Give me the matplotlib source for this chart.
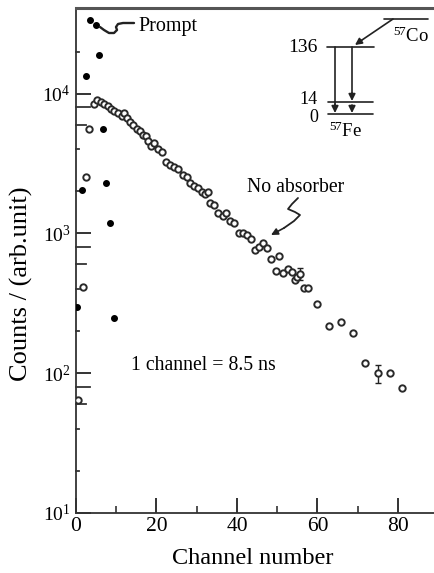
import matplotlib

matplotlib.use("Agg")
import matplotlib.pyplot as plt
from matplotlib.lines import Line2D
from matplotlib.ticker import FixedLocator, NullFormatter, LogFormatterSciNotation

plt.rcParams["font.family"] = ["Liberation Serif", "DejaVu Serif"]
plt.rcParams["mathtext.fontset"] = "custom"
plt.rcParams["mathtext.rm"] = "Liberation Serif"
plt.rcParams["mathtext.it"] = "Liberation Serif:italic"

# prompt (filled dots)
prompt_ch = [0.3, 1.5, 2.5, 3.5, 5.0, 5.7, 6.7, 7.5, 8.5, 9.5]
prompt_counts = [296, 2060, 13400, 33800, 31100, 19000, 5600, 2280, 1180, 247]

# no absorber (open circles)
open_ch = [0.5, 1.7, 2.5, 3.2, 4.5, 5.2, 6.2, 7.0, 8.0, 8.7, 9.4, 10.4, 11.4, 11.9,
           12.7, 13.4, 14.2, 15.2, 15.9, 16.7, 17.4, 17.9, 18.6, 19.4, 20.4, 21.4,
           22.4, 23.4, 24.4, 25.3, 26.6, 27.6, 28.3, 29.3, 30.3, 31.3, 32.0, 32.8,
           33.3, 34.3, 35.3, 36.5, 37.3, 38.3, 39.3, 40.5, 41.5, 42.5, 43.5, 44.5,
           45.5, 46.5, 47.5, 48.5, 49.7, 50.4, 51.4, 52.7, 53.7, 54.4, 54.9, 55.7,
           56.7, 57.6, 59.9, 62.9, 65.8, 68.8, 71.8, 75.0, 78.0, 81.0]
open_counts = [64, 411, 2550, 5620, 8480, 9060, 8770, 8480, 8210, 7810, 7560, 7320,
               6970, 7320, 6740, 6310, 6010, 5620, 5440, 5090, 5010, 4620, 4250, 4400,
               4050, 3850, 3220, 3110, 3010, 2870, 2600, 2550, 2310, 2200, 2100, 1990,
               1930, 1990, 1640, 1610, 1390, 1340, 1410, 1220, 1180, 1000, 1000, 968,
               906, 756, 794, 848, 781, 652, 535, 685, 518, 553, 527, 462, 485, 510,
               405, 405, 311, 217, 231, 193, 118, 100, 100, 79]

err_ch = [55.7, 75.0]
err_counts = [510, 100]
err_low = [45, 15]
err_high = [52, 14]

W, H = 435, 573
fig = plt.figure(figsize=(W / 100, H / 100), dpi=100)
ax = fig.add_axes([76 / W, 1 - 513 / H, 1 - 76 / W, (513 - 8) / H])

INK = "#222222"

ax.errorbar(err_ch, err_counts, yerr=[err_low, err_high], fmt="none", ecolor=INK,
            elinewidth=1.0, capsize=2.0, capthick=1.0, zorder=2)
ax.plot(open_ch, open_counts, "o", ms=4.6, mfc="white", mec="#2a2a2a", mew=1.4, zorder=3)
ax.plot(prompt_ch, prompt_counts, "o", ms=4.0, color="black", zorder=3)

ax.set_yscale("log")
ax.set_xlim(0, 89.2)
ax.set_ylim(10, 41000)

ax.spines["right"].set_visible(False)
for s in ["left", "bottom"]:
    ax.spines[s].set_color("#333333")
    ax.spines[s].set_linewidth(1.3)
ax.spines["top"].set_color("#555555")
ax.spines["top"].set_linewidth(2.2)

ax.set_xticks([0, 20, 40, 60, 80])
ax.set_xticks([10, 30, 50, 70], minor=True)
ax.yaxis.set_major_locator(FixedLocator([10, 100, 1000, 10000]))
ax.yaxis.set_major_formatter(LogFormatterSciNotation())
ax.yaxis.set_minor_locator(FixedLocator([]))
ax.yaxis.set_minor_formatter(NullFormatter())
ax.tick_params(which="major", direction="in", length=11, width=1.4, color="#333333",
               labelsize=15.5, top=False, right=False)
ax.tick_params(which="minor", direction="in", length=5, width=1.2, color="#333333",
               top=False, right=False)
ax.tick_params(axis="y", which="major", labelsize=14, pad=4)
ax.tick_params(axis="x", which="major", pad=3)

# y minor ticks: 6 and 8 longer, 2 and 4 short
ytr = ax.get_yaxis_transform()
minor_len = {2: 3, 4: 3, 6: 10, 8: 14}
for dec in [10, 100, 1000, 10000]:
    for m, L in minor_len.items():
        v = m * dec
        if v < 41000:
            ax.plot([0, L / (W - 76)], [v, v], color="#333333", lw=1.3,
                    transform=ytr, clip_on=False, zorder=1)

fig.text(253 / W, 1 - 559 / H, "Channel number", ha="center", va="center", fontsize=17.5)
fig.text(21 / W, 1 - 284 / H, "Counts / (arb.unit)", ha="center", va="center",
         rotation=90, fontsize=19)


def P(x, y):
    return (x / W, 1 - y / H)


def pline(pts, lw=1.2, color=INK):
    xs = [p[0] / W for p in pts]
    ys = [1 - p[1] / H for p in pts]
    fig.add_artist(Line2D(xs, ys, transform=fig.transFigure, color=color, lw=lw,
                          solid_capstyle="round", solid_joinstyle="round"))


def parrow(a, b, lw=1.2):
    fig.add_artist(matplotlib.patches.FancyArrowPatch(
        P(*a), P(*b), transform=fig.transFigure, arrowstyle="-|>,head_length=4,head_width=2",
        mutation_scale=1, color=INK, lw=lw, shrinkA=0, shrinkB=0))


# Prompt label
fig.text(138 / W, 1 - 26 / H, "Prompt", ha="left", va="center", fontsize=14.5)
pline([(100, 27), (104, 30), (109, 33), (114, 33), (117, 30), (116, 27), (118, 24),
       (123, 23), (128, 23), (134, 23)], lw=1.7)

# No absorber label
fig.text(296 / W, 1 - 187 / H, "No absorber", ha="center", va="center", fontsize=14.2)
pline([(298, 198), (292, 204), (288, 209), (295, 212), (300, 215), (294, 221), (284, 228)], lw=1.3)
parrow((284, 228), (271, 235))

# 1 channel label
fig.text(203 / W, 1 - 365 / H, "1 channel = 8.5 ns", ha="center", va="center", fontsize=14.2)

# level scheme
pline([(384, 19), (428, 19)])
pline([(327, 47), (374, 47)])
pline([(328, 102), (373, 102)])
pline([(328, 114), (373, 114)])
pline([(393, 19), (362, 40)])
parrow((362, 40), (355, 45))
pline([(335, 47), (335, 107)])
parrow((335, 104), (335, 113))
pline([(352, 47), (352, 93)])
parrow((352, 93), (352, 101))
parrow((352, 105), (352, 113))
fig.text(318 / W, 1 - 48 / H, "136", ha="right", va="center", fontsize=14)
fig.text(318 / W, 1 - 99 / H, "14", ha="right", va="center", fontsize=13)
fig.text(318 / W, 1 - 117 / H, "0", ha="right", va="center", fontsize=13)
fig.text(346 / W, 1 - 131 / H, r"$\mathregular{^{57}}$Fe", ha="center", va="center", fontsize=13.5)
fig.text(411 / W, 1 - 36 / H, r"$\mathregular{^{57}}$Co", ha="center", va="center", fontsize=13.5)

fig.savefig("out.png", dpi=100)
